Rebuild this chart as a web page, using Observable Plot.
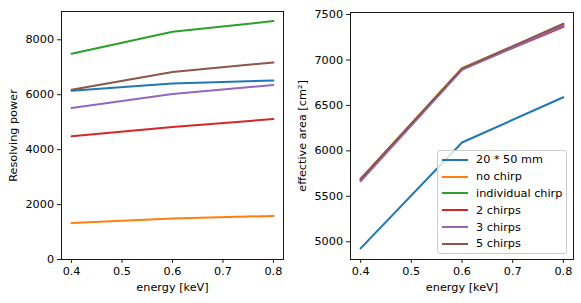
<!DOCTYPE html>
<html>
<head>
<meta charset="utf-8">
<script src="https://cdn.jsdelivr.net/npm/d3@7"></script>
<script src="https://cdn.jsdelivr.net/npm/@observablehq/plot@0.6"></script>
<style>
  html, body { margin: 0; padding: 0; background: white; }
  #wrap { position: relative; width: 581px; height: 303px; font-family: "DejaVu Sans", sans-serif; }
  #left { position: absolute; left: 0; top: 0; }
  #right { position: absolute; left: 290px; top: 0; }
  #legend { position: absolute; left: 437px; top: 150px; width: 130px; box-sizing: border-box;
    border: 1px solid #cccccc; border-radius: 3px; background: rgba(255,255,255,0.8);
    padding: 0.5px 0 1px 0; font-size: 11.25px; color: black; font-family: "DejaVu Sans", sans-serif; }
  .row { height: 16.8px; display: flex; align-items: center; }
  .sw { width: 26px; height: 2px; margin-left: 4px; margin-right: 8px; }
  svg text { font-family: "DejaVu Sans", sans-serif; }
</style>
</head>
<body>
<div id="wrap"><div id="left"></div><div id="right"></div><div id="legend"></div></div>
<script>
const energy = [0.4, 0.6, 0.8];
const series = ["20 * 50 mm", "no chirp", "individual chirp", "2 chirps", "3 chirps", "5 chirps"];
const colors = ["#1f77b4", "#ff7f0e", "#2ca02c", "#d62728", "#9467bd", "#8c564b"];

// Resolving power per series (energy 0.4, 0.6, 0.8 keV)
const rp_20x50 = [6145, 6412, 6521];
const rp_noChirp = [1333, 1490, 1588];
const rp_individual = [7490, 8290, 8680];
const rp_2chirps = [4485, 4824, 5115];
const rp_3chirps = [5515, 6024, 6352];
const rp_5chirps = [6180, 6824, 7176];

// Effective area [cm^2]
const aeff_20x50 = [4927, 6092, 6590];
const aeff_noChirp = [5690, 6910, 7385];
const aeff_individual = [5685, 6905, 7380];
const aeff_2chirps = [5680, 6900, 7365];
const aeff_3chirps = [5666, 6892, 7378];
const aeff_5chirps = [5690, 6905, 7398];

const xTicks = [0.4, 0.5, 0.6, 0.7, 0.8];
const rpTicks = [0, 2000, 4000, 6000, 8000];
const aeffTicks = [5000, 5500, 6000, 6500, 7000, 7500];

function rows(arrays) {
  const out = [];
  arrays.forEach((vals, i) => vals.forEach((v, j) => out.push({series: series[i], energy: energy[j], value: v})));
  return out;
}
const rpRows = rows([rp_20x50, rp_noChirp, rp_individual, rp_2chirps, rp_3chirps, rp_5chirps]);
const aeffRows = rows([aeff_20x50, aeff_noChirp, aeff_individual, aeff_2chirps, aeff_3chirps, aeff_5chirps]);

const style = {fontFamily: "DejaVu Sans", fontSize: "11.25px", color: "black", background: "white", overflow: "visible"};

function panel({data, width, yDomain, yTicks, yLabel, ml, mr, mt, yLabelOffset}) {
  return Plot.plot({
    width, height: 303,
    marginLeft: ml, marginRight: mr, marginTop: mt, marginBottom: 44,
    style,
    x: {domain: [0.38, 0.82]},
    y: {domain: yDomain},
    color: {domain: series, range: colors},
    marks: [
      Plot.line(data, {x: "energy", y: "value", stroke: "series", z: "series", strokeWidth: 2}),
      Plot.frame({stroke: "black", strokeWidth: 0.9}),
      Plot.axisX({ticks: xTicks, tickFormat: d3.format(".1f"), tickSize: 3.9, tickPadding: 3.5, strokeWidth: 0.9,
        fontSize: 11.25, fill: "black",
        label: "energy [keV]", labelAnchor: "center", labelOffset: 31, labelArrow: "none"}),
      Plot.axisY({ticks: yTicks, tickFormat: d => String(d), tickSize: 3.9, tickPadding: 3.5, strokeWidth: 0.9,
        fontSize: 11.25, fill: "black",
        label: yLabel, labelAnchor: "center", labelOffset: yLabelOffset, labelArrow: "none"})
    ]
  });
}

document.getElementById("left").appendChild(panel({
  data: rpRows, width: 290, yDomain: [0, 9030], yTicks: rpTicks, yLabel: "Resolving power", ml: 61, mr: 7, mt: 11, yLabelOffset: 53
}));
document.getElementById("right").appendChild(panel({
  data: aeffRows, width: 291, yDomain: [4805, 7522], yTicks: aeffTicks, yLabel: "effective area [cm²]", ml: 60, mr: 8, mt: 12, yLabelOffset: 53
}));

const legend = d3.select("#legend");
series.forEach((s, i) => {
  const r = legend.append("div").attr("class", "row");
  r.append("div").attr("class", "sw").style("background", colors[i]);
  r.append("span").text(s);
});
</script>
</body>
</html>
